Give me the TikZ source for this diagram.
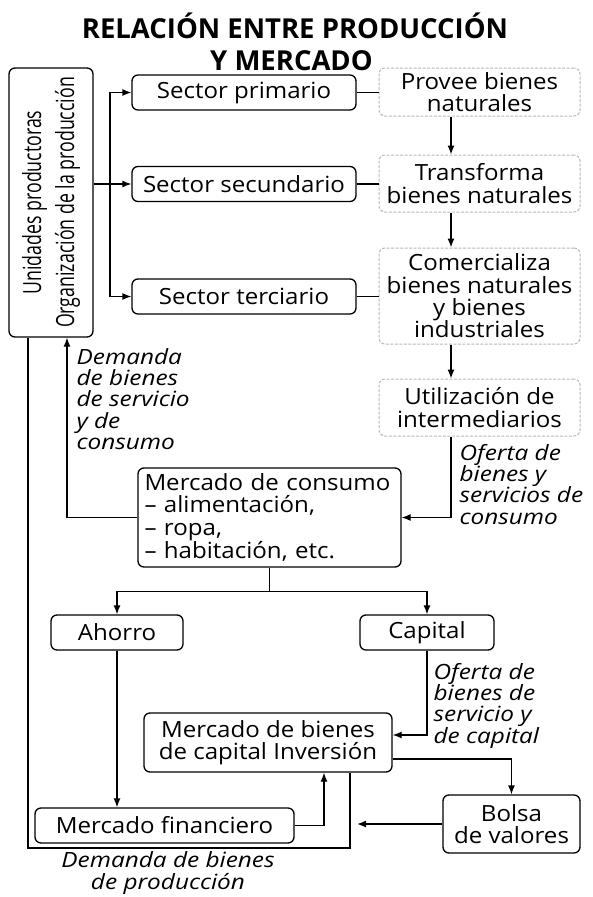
\documentclass[tikz,border=0pt]{standalone}
\usepackage{fontspec}
\setmainfont{Open Sans}
\newfontfamily\ancha{Open Sans}[FakeStretch=1.08]
\newfontfamily\anchanota{Open Sans}[FakeStretch=1.16]
\usetikzlibrary{arrows.meta}
\begin{document}
\begin{tikzpicture}[x=1pt,y=-1pt,line width=1.3pt,
  >={Latex[length=9pt,width=7pt]},
  caja/.style={draw,rounded corners=6pt,inner sep=0pt,align=center,font=\ancha\fontsize{22.3}{22.3}\selectfont},
  punteada/.style={caja,draw=gray!55,line width=1pt,dash pattern=on 3pt off 1.5pt},
  nota/.style={inner sep=0pt,align=left,font=\anchanota\itshape\fontsize{21}{21.3}\selectfont},
  titulo/.style={anchor=base,inner sep=0pt,font=\fontsize{27.5}{32}\selectfont\bfseries}]
\useasboundingbox (0,0) rectangle (593,897);

\node[titulo] (tit1) at (295,38.5) {RELACIÓN ENTRE PRODUCCIÓN};
\node[titulo] (tit2) at (291.5,70) {Y MERCADO};

\node[caja,minimum width=84,minimum height=269] (unid) at (51,202.5) {\rotatebox{90}{\scalebox{0.71}[1]{\rmfamily\fontsize{25}{33}\selectfont\begin{tabular}{@{}c@{}}Unidades productoras\\Organización de la producción\end{tabular}}}};
\node[caja,minimum width=224,minimum height=35] (prim) at (244,92.5) {Sector primario};
\node[caja,minimum width=224,minimum height=35] (secu) at (244,184) {Sector secundario};
\node[caja,minimum width=224,minimum height=35] (terc) at (244,296.5) {Sector terciario};

\node[punteada,minimum width=201,minimum height=48] (prov) at (479.5,92) {Provee bienes\\naturales};
\node[punteada,minimum width=201,minimum height=57] (trans) at (479.5,183.5) {Transforma\\bienes naturales};
\node[punteada,minimum width=201,minimum height=96] (come) at (479.5,296) {Comercializa\\bienes naturales\\y bienes\\industriales};
\node[punteada,minimum width=201,minimum height=57] (util) at (479.5,407.5) {Utilización de\\intermediarios};

\node[caja,align=left,text width=250,minimum width=263,minimum height=99] (cons) at (269.5,517.5) {Mercado de consumo\\– alimentación,\\– ropa,\\– habitación, etc.};
\node[caja,minimum width=132,minimum height=35] (ahorro) at (117,632.5) {Ahorro};
\node[caja,minimum width=134,minimum height=35] (capital) at (427,632.5) {Capital};
\node[caja,minimum width=248,minimum height=59] (mbc) at (268,742.5) {Mercado de bienes\\de capital Inversión};
\node[caja,minimum width=259,minimum height=35] (mfin) at (164.5,825.5) {Mercado financiero};
\node[caja,minimum width=137,minimum height=58] (bolsa) at (511.5,824) {Bolsa\\de valores};

\node[nota,anchor=north west] (dem1) at (76,347.5) {Demanda\\de bienes\\de servicio\\y de\\consumo};
\node[nota,anchor=north west] (of1) at (459,443.5) {Oferta de\\bienes y\\servicios de\\consumo};
\node[nota,anchor=north west] (of2) at (433,662.5) {Oferta de\\bienes de\\servicio y\\de capital};
\node[nota,align=center] (dem2) at (168,873) {Demanda de bienes\\de producción};

\coordinate (tk) at (110,0);
\coordinate (ax) at (451,0);
\coordinate (dx) at (67,0);
\coordinate (ox) at (28,0);
\coordinate (ob) at (350,848);
\coordinate (fx) at (324,0);
\coordinate (bt) at (357,0);

\draw[->] (unid.east |- secu.west) -- (secu.west);
\draw[<->] (prim.west) -- (prim.west -| tk) -- (terc.west -| tk) -- (terc.west);
\draw (prim.east) -- (prim.east -| prov.west);
\draw (secu.east) -- (secu.east -| trans.west);
\draw (terc.east) -- (terc.east -| come.west);
\draw[->] (prov.south -| ax) -- (trans.north -| ax);
\draw[->] (trans.south -| ax) -- (come.north -| ax);
\draw[->] (come.south -| ax) -- (util.north -| ax);
\draw[->] (util.south -| ax) |- (cons.east);
\draw[->] (cons.west) -| (unid.south -| dx);
\draw (unid.south -| ox) |- (ob) -- (ob |- mbc.south);
\draw (cons.south) -- ++(0,23.5) coordinate (sp);
\draw[->] (sp) -| (ahorro.north);
\draw[->] (sp) -| (capital.north);
\draw[->] (ahorro.south) -- (ahorro.south |- mfin.north);
\draw[->] (capital.south) |- ([yshift=7.5pt]mbc.east);
\draw[->] ([yshift=-16.5pt]mbc.east) -| (bolsa.north);
\draw[->] (bolsa.west) -- (bolsa.west -| bt);
\draw[->] (mfin.east) -| (mbc.south -| fx);
\end{tikzpicture}
\end{document}
